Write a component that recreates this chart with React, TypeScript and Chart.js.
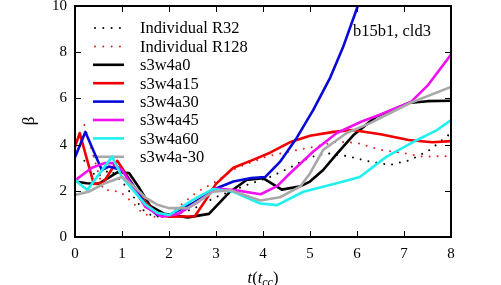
import React, { useEffect, useRef } from 'react';
import { Chart, registerables } from 'chart.js';
Chart.register(...registerables);

// ---- data ----
const seriesLabels = ['Individual R32', 'Individual R128', 's3w4a0', 's3w4a15', 's3w4a30', 's3w4a45', 's3w4a60', 's3w4a-30'];

const r32T = [0.2, 0.45, 0.75, 1.0, 1.24, 1.45, 1.67, 2.0, 2.5, 3.0, 3.65, 4.15, 4.57, 5.0, 5.35, 5.8, 6.28, 6.7, 7.13, 7.55, 8.0];
const r32B = [3.3, 2.6, 2.9, 2.4, 1.75, 1.17, 0.88, 0.9, 1.2, 1.73, 2.25, 2.6, 3.0, 3.45, 3.63, 3.5, 3.26, 3.12, 3.33, 3.77, 4.5];

const r128T = [0.2, 0.6, 0.96, 1.24, 1.45, 1.75, 2.0, 2.17, 2.38, 2.6, 2.94, 3.44, 4.1, 4.57, 5.07, 5.57, 6.0, 6.5, 7.0, 7.4, 8.0];
const r128B = [4.85, 2.05, 1.96, 1.47, 1.0, 0.85, 0.9, 1.25, 1.6, 1.96, 2.33, 3.0, 3.5, 3.7, 3.9, 4.13, 4.07, 3.77, 3.63, 3.48, 3.5];

const a0T = [0, 0.25, 0.5, 0.9, 1.15, 1.35, 1.6, 1.9, 2.4, 2.85, 3.3, 3.65, 4.0, 4.4, 4.8, 5.0, 5.28, 5.57, 5.92, 6.4, 7.1, 7.5, 8.0];
const a0B = [2.4, 2.33, 2.3, 2.8, 2.77, 2.18, 1.35, 1.0, 0.85, 1.0, 1.96, 2.47, 2.55, 2.05, 2.2, 2.4, 2.9, 3.6, 4.4, 5.2, 5.8, 5.88, 5.9];

const a15T = [0, 0.1, 0.4, 0.6, 0.9, 1.25, 1.5, 1.75, 2.0, 2.55, 2.75, 3.0, 3.37, 3.8, 4.15, 4.57, 5.0, 5.5, 5.9, 6.5, 7.1, 7.6, 8.0];
const a15B = [3.9, 4.5, 2.3, 2.35, 3.3, 2.2, 1.5, 1.0, 0.88, 0.9, 1.5, 2.3, 3.0, 3.35, 3.65, 4.1, 4.38, 4.55, 4.63, 4.45, 4.2, 4.1, 4.15];

const a30T = [0, 0.22, 0.57, 0.72, 1.0, 1.25, 1.5, 1.75, 2.0, 2.5, 3.0, 3.37, 3.75, 4.05, 4.36, 4.72, 5.07, 5.43, 5.7, 6.0, 6.1];
const a30B = [3.45, 4.55, 2.9, 3.05, 2.9, 2.2, 1.4, 0.95, 0.95, 1.45, 2.1, 2.4, 2.55, 2.6, 3.25, 4.3, 5.5, 6.9, 8.2, 9.9, 10.6];

const a45T = [0, 0.36, 0.64, 0.8, 1.0, 1.25, 1.5, 1.85, 2.2, 2.6, 3.0, 3.4, 3.95, 4.3, 4.57, 5.07, 5.57, 6.1, 6.5, 7.15, 7.5, 8.0];
const a45B = [2.45, 3.0, 3.2, 3.2, 2.9, 2.1, 1.3, 0.88, 1.0, 1.5, 2.1, 2.03, 1.85, 2.2, 2.75, 3.7, 4.5, 5.0, 5.3, 5.85, 6.55, 7.9];

const a60T = [0, 0.26, 0.79, 1.0, 1.25, 1.5, 1.75, 2.0, 2.5, 2.94, 3.37, 3.94, 4.3, 4.86, 5.57, 6.06, 6.63, 7.28, 7.7, 8.0];
const a60B = [2.47, 2.03, 3.48, 2.6, 2.0, 1.4, 1.05, 0.95, 1.6, 2.08, 1.96, 1.45, 1.38, 1.96, 2.33, 2.6, 3.48, 4.2, 4.63, 5.06];

const am30T = [0, 0.29, 0.64, 1.0, 1.25, 1.5, 1.75, 2.0, 2.4, 2.94, 3.3, 3.94, 4.36, 4.79, 5.0, 5.28, 5.78, 6.28, 7.13, 8.0];
const am30B = [1.82, 1.96, 2.33, 2.6, 2.2, 1.7, 1.4, 1.25, 1.25, 1.96, 2.03, 1.58, 1.72, 2.18, 2.75, 3.77, 4.5, 4.93, 5.8, 6.5];

const xMin = 0, xMax = 8, xStep = 1;
const yMin = 0, yMax = 10, yStep = 2;
const annotation = 'b15b1, cld3';

// ---- styles ----
const SERIF = '"Liberation Serif", "DejaVu Serif", serif';
const colors = ['#000000', '#e02020', '#000000', '#f00000', '#0808d8', '#f010f0', '#20f0f0', '#a8a8a8'];
const dotted = [true, true, false, false, false, false, false, false];

function pts(t: number[], b: number[]) {
  return t.map((x, i) => ({ x, y: b[i] }));
}

const allT = [r32T, r128T, a0T, a15T, a30T, a45T, a60T, am30T];
const allB = [r32B, r128B, a0B, a15B, a30B, a45B, a60B, am30B];

const overlayPlugin = {
  id: 'overlay',
  beforeDatasetsDraw(chart: any) {
    const { ctx } = chart;
    ctx.save();
    // legend
    seriesLabels.forEach((lab, i) => {
      const y = 28 + i * 18.4;
      ctx.beginPath();
      ctx.strokeStyle = colors[i];
      if (dotted[i]) {
        ctx.lineWidth = 2;
        ctx.lineCap = 'round';
        ctx.setLineDash([0.01, 8.3]);
      } else {
        ctx.lineWidth = 2.6;
        ctx.lineCap = 'butt';
        ctx.setLineDash([]);
      }
      ctx.moveTo(dotted[i] ? 95 : 93, y);
      ctx.lineTo(124, y);
      ctx.stroke();
      ctx.setLineDash([]);
      ctx.fillStyle = '#000';
      ctx.font = '16.5px ' + SERIF;
      ctx.textAlign = 'left';
      ctx.textBaseline = 'middle';
      ctx.fillText(lab, 140, y + 1);
    });
    // annotation
    ctx.font = '16.5px ' + SERIF;
    ctx.textAlign = 'left';
    ctx.textBaseline = 'middle';
    ctx.fillText(annotation, 353, 32);
    ctx.restore();
  },
  afterDatasetsDraw(chart: any) {
    const { ctx, chartArea: a, scales } = chart;
    ctx.save();
    ctx.strokeStyle = '#000';
    ctx.setLineDash([]);
    // ticks
    ctx.lineWidth = 1;
    ctx.beginPath();
    for (let v = xMin; v <= xMax; v += xStep) {
      const px = Math.round(scales.x.getPixelForValue(v)) + 0.5;
      ctx.moveTo(px, a.bottom);
      ctx.lineTo(px, a.bottom - 6);
      ctx.moveTo(px, a.top);
      ctx.lineTo(px, a.top + 6);
    }
    for (let v = yMin; v <= yMax; v += yStep) {
      const py = Math.round(scales.y.getPixelForValue(v)) + 0.5;
      ctx.moveTo(a.left, py);
      ctx.lineTo(a.left + 6, py);
      ctx.moveTo(a.right, py);
      ctx.lineTo(a.right - 6, py);
    }
    ctx.stroke();
    // frame
    ctx.lineWidth = 2;
    ctx.strokeRect(a.left, a.top, a.right - a.left, a.bottom - a.top);
    // axis titles
    ctx.fillStyle = '#000';
    ctx.save();
    ctx.translate(30, 121);
    ctx.rotate(-Math.PI / 2);
    ctx.font = '17px ' + SERIF;
    ctx.textAlign = 'center';
    ctx.textBaseline = 'middle';
    ctx.fillText('\u03b2', 0, 0);
    ctx.restore();
    // x title: t(t_cc)
    ctx.textBaseline = 'alphabetic';
    ctx.textAlign = 'left';
    const parts: [string, string, number][] = [
      ['t', 'italic 16.5px ' + SERIF, 0],
      ['(', '16.5px ' + SERIF, 0],
      ['t', 'italic 16.5px ' + SERIF, 0],
      ['cc', 'italic 12px ' + SERIF, 3],
      [')', '16.5px ' + SERIF, 0],
    ];
    let total = 0;
    parts.forEach(([s, f]) => { ctx.font = f; total += ctx.measureText(s).width; });
    let x = 263 - total / 2;
    const base = 283;
    parts.forEach(([s, f, dy]) => {
      ctx.font = f;
      ctx.fillText(s, x, base + dy);
      x += ctx.measureText(s).width;
    });
    ctx.restore();
  },
};

export default function App() {
  const ref = useRef<HTMLCanvasElement | null>(null);
  useEffect(() => {
    if (!ref.current) return;
    const datasets = seriesLabels.map((lab, i) => ({
      label: lab,
      data: pts(allT[i], allB[i]),
      borderColor: colors[i],
      backgroundColor: colors[i],
      borderWidth: dotted[i] ? 2 : 2.6,
      borderDash: dotted[i] ? [0.01, 8] : [],
      borderCapStyle: dotted[i] ? 'round' : 'butt',
      borderJoinStyle: 'round',
      pointRadius: 0,
      pointHoverRadius: 0,
      tension: 0,
      fill: false,
      order: 7 - i,
    }));
    const chart = new Chart(ref.current, {
      type: 'line',
      data: { datasets } as any,
      plugins: [overlayPlugin as any],
      options: {
        animation: false,
        responsive: false,
        maintainAspectRatio: false,
        events: [],
        layout: { padding: { left: 0, right: 50, top: 6, bottom: 0 } },
        plugins: { legend: { display: false }, tooltip: { enabled: false }, title: { display: false } },
        scales: {
          x: {
            type: 'linear',
            min: xMin,
            max: xMax,
            grid: { display: false },
            border: { display: false },
            ticks: { stepSize: xStep, color: '#000', font: { family: SERIF, size: 15 }, padding: 0, maxRotation: 0 },
            afterFit: (s: any) => { s.height = 48; s.paddingLeft = 0; s.paddingRight = 0; },
          },
          y: {
            type: 'linear',
            min: yMin,
            max: yMax,
            grid: { display: false },
            border: { display: false },
            ticks: { stepSize: yStep, color: '#000', font: { family: SERIF, size: 15 }, padding: 0 },
            afterFit: (s: any) => { s.width = 75; s.paddingTop = 0; s.paddingBottom = 0; },
          },
        },
      } as any,
    });
    return () => chart.destroy();
  }, []);
  return (
    <div style={{ position: 'absolute', left: 0, top: 0, width: 501, height: 285, background: '#fff' }}>
      <canvas ref={ref} width={501} height={285} style={{ display: 'block' }} />
    </div>
  );
}
